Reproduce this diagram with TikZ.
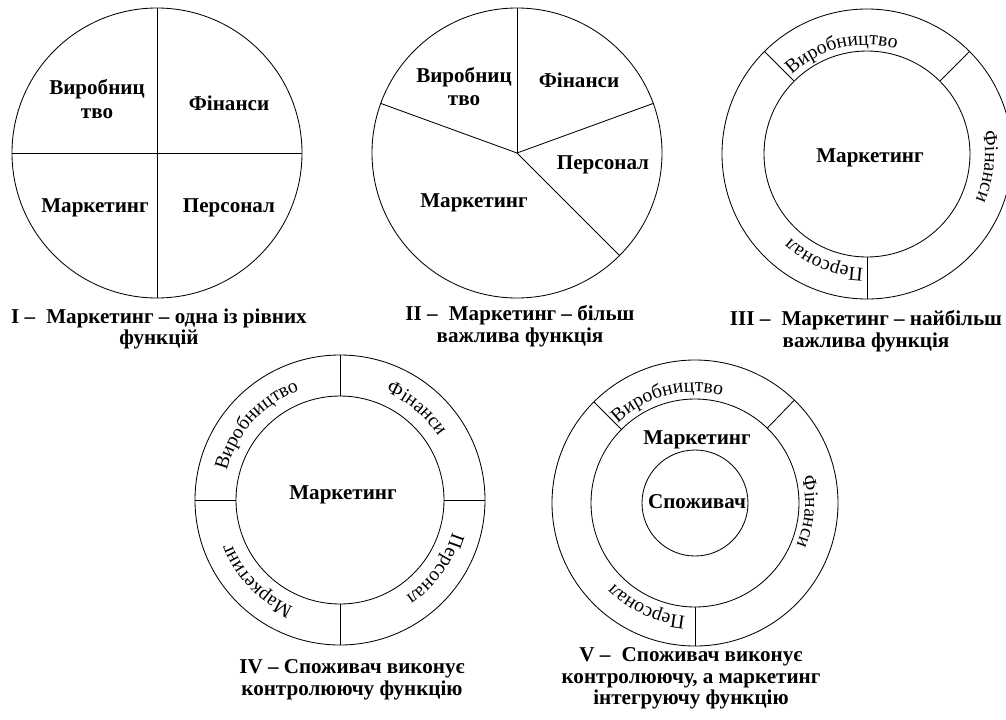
\documentclass[tikz,border=0pt]{standalone}
\usepackage{fontspec}
\setmainfont{Liberation Serif}
\usetikzlibrary{decorations.text}
\newcommand\ringfont{\fontsize{14}{16}\selectfont}
\newcommand\labelfont{\fontsize{15}{16.5}\selectfont\bfseries}
\newcommand\capfont{\fontsize{15}{15.3}\selectfont\bfseries}
\tikzset{
  rim/.style={draw, line width=0.6pt},
  spoke/.style={draw, line width=0.6pt},
  sectorlabel/.style={font=\labelfont, align=center, inner sep=0pt},
  caption/.style={font=\capfont, align=center, inner sep=0pt}
}
% text set along a clockwise arc: centre, mid angle, radius, text
\newcommand\ringlabel[4]{%
  \path[decorate, decoration={text along path, text align=center,
    text={|\ringfont|#4}}]
    (#1) ++(#2+70:#3) arc[start angle=#2+70, end angle=#2-70, radius=#3];}

\begin{document}
\begin{tikzpicture}[x=0.25mm, y=0.25mm]
  \useasboundingbox (0,0) rectangle (1006,-719);
  \clip (0,0) rectangle (1006,-719);

  % I
  \coordinate (pieA) at (157,-153);
  \draw[rim] (pieA) circle[radius=145];
  \draw[spoke] (pieA) ++(90:145) -- ++(0,-290);
  \draw[spoke] (pieA) ++(180:145) -- ++(290,0);
  \node[sectorlabel] (prodA) at (97,-99) {Виробниц\\тво};
  \node[sectorlabel] (finA) at (229,-103) {Фінанси};
  \node[sectorlabel] (markA) at (95,-208) {Маркетинг};
  \node[sectorlabel] (persA) at (229,-208) {Персонал};
  \node[caption] (capA) at (159,-329) {I –\; Маркетинг – одна із рівних\\функцій};

  % II
  \coordinate (pieB) at (517,-153);
  \draw[rim] (pieB) circle[radius=145];
  \foreach \a in {90,160,20,-45}
    \draw[spoke] (pieB) -- ++(\a:145);
  \node[sectorlabel] (prodB) at (464,-86.5) {Виробниц\\тво};
  \node[sectorlabel] (finB) at (579,-80) {Фінанси};
  \node[sectorlabel] (persB) at (603,-165) {Персонал};
  \node[sectorlabel] (markB) at (474,-203) {Маркетинг};
  \node[caption] (capB) at (520,-326) {II –\; Маркетинг – більш\\важлива функція};

  % III
  \coordinate (ringC) at (867,-154);
  \draw[rim] (ringC) circle[radius=145];
  \draw[rim] (ringC) circle[radius=103];
  \foreach \a in {135,45,-90}
    \draw[spoke] (ringC) ++(\a:103) -- ++(\a:42);
  \node[sectorlabel] (markC) at (870,-158) {Маркетинг};
  \ringlabel{ringC}{104}{109}{Виробництво}
  \ringlabel{ringC}{-6}{118}{Фінанси}
  \ringlabel{ringC}{-112}{114}{Персонал}
  \node[caption] (capC) at (866,-331) {III –\; Маркетинг – найбільш\\важлива функція};

  % IV
  \coordinate (ringD) at (340,-500);
  \draw[rim] (ringD) circle[radius=145];
  \draw[rim] (ringD) circle[radius=104];
  \foreach \a in {90,0,180,-90}
    \draw[spoke] (ringD) ++(\a:104) -- ++(\a:41);
  \node[sectorlabel] (markD) at (343,-495) {Маркетинг};
  \ringlabel{ringD}{138}{117}{Виробництво}
  \ringlabel{ringD}{50}{117}{Фінанси}
  \ringlabel{ringD}{-36}{117}{Персонал}
  \ringlabel{ringD}{-136}{117}{Маркетинг}
  \node[caption] (capD) at (352,-680) {IV – Споживач виконує\\контролюючу функцію};

  % V
  \coordinate (ringE) at (695,-503);
  \draw[rim] (ringE) circle[radius=143];
  \draw[rim] (ringE) circle[radius=104];
  \draw[rim] (ringE) circle[radius=53];
  \foreach \a in {135,46,-90}
    \draw[spoke] (ringE) ++(\a:104) -- ++(\a:39);
  \node[sectorlabel] (markE) at (697,-440) {Маркетинг};
  \node[sectorlabel] (consE) at (697,-502) {Споживач};
  \ringlabel{ringE}{105}{111}{Виробництво}
  \ringlabel{ringE}{-4.5}{110}{Фінанси}
  \ringlabel{ringE}{-115}{114}{Персонал}
  \node[caption] (capE) at (691,-678.5) {V –\; Споживач виконує\\контролюючу, а маркетинг\\інтегруючу функцію};
\end{tikzpicture}
\end{document}
